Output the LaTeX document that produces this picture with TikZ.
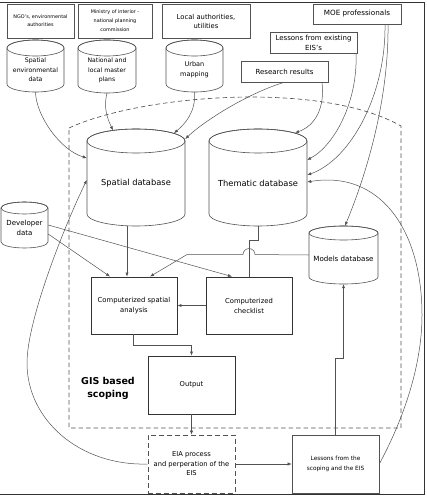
\documentclass[tikz,border=0pt]{standalone}
\usepackage{fontspec}
\setmainfont{DejaVu Sans}
\usetikzlibrary{arrows.meta,calc}
\definecolor{ln}{gray}{0.32}
\definecolor{dk}{gray}{0.2}
\newcommand\fsz[2]{\fontsize{#1}{#2}\selectfont}
\tikzset{
  box/.style={draw=ln, line width=0.6pt, fill=white, inner sep=1pt, align=center},
  thickbox/.style={draw=dk, line width=0.9pt, fill=white, inner sep=1pt, align=center},
  dashbox/.style={draw=ln, line width=0.7pt, dash pattern=on 5pt off 3pt, fill=white, inner sep=1pt, align=center},
  con/.style={draw=ln, line width=0.5pt},
  arr/.style={con, -{Latex[length=4pt,width=3.2pt]}},
  region/.style={draw=ln, line width=0.65pt, dash pattern=on 4.5pt off 3pt},
  frame/.style={draw=dk, line width=0.9pt},
}
% name, cx, ytop, ybot, rx, ry, text options, text
\newcommand\cyl[8]{%
  \path[draw=ln, line width=0.6pt, fill=white] ({#2-#5},{#3+#6}) -- ({#2-#5},{#4-#6})
     arc[start angle=180, end angle=360, x radius=#5pt, y radius=#6pt]
     -- ({#2+#5},{#3+#6}) arc[start angle=0, end angle=180, x radius=#5pt, y radius=#6pt] -- cycle;
  \draw[draw=ln, line width=0.6pt] (#2,{#3+#6}) ellipse[x radius=#5pt, y radius=#6pt];
  \node[inner sep=0pt, minimum width={2*#5pt}, minimum height={(#4-#3)*1pt}] (#1) at (#2,{(#3+#4)/2}) {};
  \node[align=center, inner sep=0pt, #7] (#1-t) at (#2,{(#3+#4)/2+#6/2}) {#8};
}
\begin{document}
\begin{tikzpicture}[x=1pt, y=-1pt]
\useasboundingbox (0,0) rectangle (426,502);
% frame
\draw[frame] (0,2) -- (424,2) -- (424,494) -- (0,494);
% scoping region
\draw[region] (69,128) .. controls (140,95) and (320,80) .. (401,126) -- (401,428) -- (69,428) -- cycle;

% top boxes
\node[box, minimum width=67pt, minimum height=34pt, font={\fsz{4.9}{8}}] (ngo) at (40.5,21) {NGO's, environmental\\authorities};
\node[box, minimum width=74pt, minimum height=34pt, font={\fsz{4.9}{9}}] (min) at (115,21) {Ministry of interior -\\national planning\\commission};
\node[box, minimum width=88pt, minimum height=34pt, font={\fsz{6.8}{9}}] (loc) at (206,21) {Local authorities,\\utilities};
\node[box, minimum width=88pt, minimum height=20pt, font={\fsz{7.2}{9}}] (moe) at (357,14) {MOE professionals};
\node[box, minimum width=87pt, minimum height=21pt, font={\fsz{7}{10}}] (lex) at (313.5,42.5) {Lessons from existing\\EIS's};
\node[box, minimum width=87pt, minimum height=21pt, font={\fsz{7}{9}}] (res) at (284.5,71.5) {Research results};

% cylinders
\cyl{sed}{35.5}{40}{92}{28.5}{8}{font={\fsz{6.2}{9.5}}}{Spatial\\environmental\\data}
\cyl{nlm}{107}{40}{93}{29}{8}{font={\fsz{6.1}{9.5}}}{National and\\local master\\plans}
\cyl{urb}{194.5}{40}{92}{28.5}{8}{font={\fsz{6.5}{10}}}{Urban\\mapping}
\cyl{sdb}{136}{129}{226}{49}{12}{font={\fsz{8.3}{10}}}{Spatial database}
\cyl{tdb}{258}{129}{226}{49}{12}{font={\fsz{8.3}{10}}}{Thematic database}
\cyl{mdb}{343.5}{226}{284}{34.5}{7}{font={\fsz{7.1}{9}}}{Models database}
\cyl{dev}{24.5}{202}{248}{23.5}{6}{font={\fsz{7}{10}}}{Developer\\data}

% process boxes
\node[thickbox, minimum width=86pt, minimum height=57pt, font={\fsz{6.8}{10}}] (csa) at (134,305.5) {Computerized spatial\\analysis};
\node[thickbox, minimum width=86pt, minimum height=57pt, font={\fsz{6.8}{10}}] (chk) at (249,305.5) {Computerized\\checklist};
\node[thickbox, minimum width=87pt, minimum height=58pt, font={\fsz{6.8}{10}}] (out) at (191.5,385) {Output};
\node[dashbox, minimum width=87pt, minimum height=58pt, font={\fsz{6.7}{9.5}}] (eia) at (191.5,464) {EIA process\\and perperation of the\\EIS};
\node[box, minimum width=87pt, minimum height=58pt, font={\fsz{5.8}{10}}] (lsc) at (335.5,464) {Lessons from the\\scoping and the EIS};
\node[align=center, font={\fsz{9.5}{13}\bfseries}] (gis) at (108,388.5) {GIS based\\scoping};

% waypoints
\coordinate (wR) at (422,315);
\coordinate (wL) at (27,363);

% connectors into spatial database
\draw[arr] (sed.south) .. controls +(0.5,23) and +(-27,-8) .. ($(sdb.west)+(0,-19.5)$);
\draw[arr] (nlm.south) .. controls +(-4,15) and +(-5,-10.5) .. ($(sdb.north)+(-23,1.5)$);
\draw[arr] (urb.south) .. controls +(1.5,20) and +(11,-9.4) .. ($(sdb.north)+(38,4.4)$);
\draw[arr] (res.south) .. controls +(-34.5,10) and +(20,-19) .. ($(sdb.east)+(0,-38.5)$);
\draw[arr] (eia.west) .. controls +(-68,2) and +(0,57) .. (wL) .. controls +(0,-43) and +(-22,45) .. ($(sdb.west)+(0,2.5)$);

% connectors into thematic database
\draw[arr] ($(res.south)+(37.5,0)$) .. controls +(3,26) and +(20,-7) .. ($(tdb.north)+(37,4)$);
\draw[arr] ($(lex.south)+(42.5,0)$) .. controls +(2,47) and +(28,-15) .. ($(tdb.east)+(0,-17.5)$);
\draw[arr] ($(moe.south)+(28,0)$) .. controls +(1,71) and +(43,-15) .. ($(tdb.east)+(0,-2.5)$);
\draw[arr] (lsc.east) .. controls +(21,-39) and +(0,55) .. (wR) .. controls +(0,-85) and +(73,-12) .. ($(tdb.east)+(0,4.5)$);

% into models database
\draw[arr] ($(moe.south)+(31,0)$) .. controls +(1,86) and +(15,-36) .. ($(mdb.north)+(1.5,0)$);
\draw[arr] (lsc.north) -- ++(0,-76) -| (mdb.south);

% lower flow
\draw[arr] ($(sdb.south)+(-9,0)$) -- ($(csa.north)+(-7,0)$);
\draw[arr] ($(dev.east)+(0,9)$) -- ($(csa.north)+(-24,0)$);
\draw[arr] (dev.east) -- ($(chk.north)+(-17,0)$);
\draw[con] (tdb.south) -- ++(0,14) -| (chk.north);
\draw[arr] (mdb.west) -- ($(chk.north)+(6,-22)$) arc[start angle=0, end angle=180, radius=6pt]
   -- ($(csa.north)+(53,-22)$) -- ($(csa.north)+(16,0)$);
\draw[arr] (chk.west) -- (csa.east);
\draw[arr] ($(csa.south)+(-1,0)$) -- ++(0,11) -| (out.north);
\draw[arr] (out.south) -- (eia.north);
\draw[arr] (eia.east) -- (lsc.west);
\end{tikzpicture}
\end{document}
